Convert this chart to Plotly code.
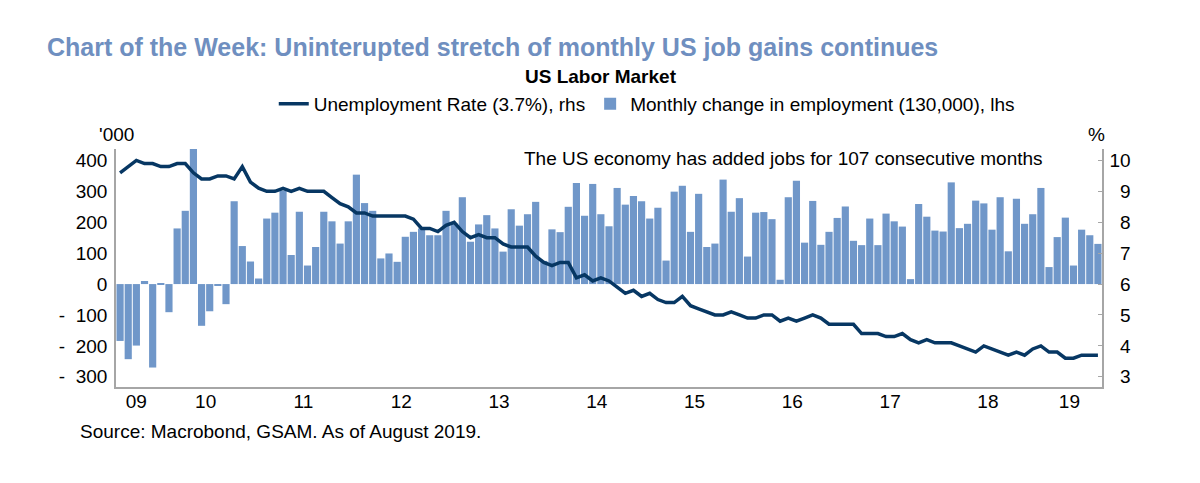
import pandas as pd
import plotly.graph_objects as go

# ---------------- data ----------------
months = pd.date_range("2009-08-01", "2019-08-01", freq="MS")

# Monthly change in nonfarm payrolls, '000 (lhs)
payrolls = [
    -184, -243, -199, 10, -270,                                   # 2009 Aug-Dec
    2, -91, 180, 237, 520, -135, -88, -5, -65, 268, 123, 73,       # 2010
    18, 212, 231, 303, 94, 234, 60, 120, 234, 203, 131, 203,       # 2011
    354, 262, 237, 83, 99, 72, 153, 169, 180, 158, 158, 237,       # 2012
    196, 281, 137, 193, 223, 180, 105, 242, 189, 226, 266, 75,     # 2013
    177, 168, 250, 327, 221, 324, 226, 187, 311, 257, 285, 268,    # 2014
    212, 247, 76, 299, 318, 169, 292, 120, 131, 338, 234, 278,     # 2015
    89, 231, 233, 210, 14, 281, 334, 134, 269, 127, 169, 214,      # 2016
    251, 140, 126, 212, 126, 228, 203, 186, 16, 259, 218, 173,     # 2017
    170, 329, 181, 195, 270, 261, 176, 281, 106, 276, 195, 226,    # 2018
    311, 55, 152, 215, 60, 176, 158, 130,                          # 2019 Jan-Aug
]

# Unemployment rate, % (rhs)
unemployment = [
    9.6, 9.8, 10.0, 9.9, 9.9,
    9.8, 9.8, 9.9, 9.9, 9.6, 9.4, 9.4, 9.5, 9.5, 9.4, 9.8, 9.3,
    9.1, 9.0, 9.0, 9.1, 9.0, 9.1, 9.0, 9.0, 9.0, 8.8, 8.6, 8.5,
    8.3, 8.3, 8.2, 8.2, 8.2, 8.2, 8.2, 8.1, 7.8, 7.8, 7.7, 7.9,
    8.0, 7.7, 7.5, 7.6, 7.5, 7.5, 7.3, 7.2, 7.2, 7.2, 6.9, 6.7,
    6.6, 6.7, 6.7, 6.2, 6.3, 6.1, 6.2, 6.1, 5.9, 5.7, 5.8, 5.6,
    5.7, 5.5, 5.4, 5.4, 5.6, 5.3, 5.2, 5.1, 5.0, 5.0, 5.1, 5.0,
    4.9, 4.9, 5.0, 5.0, 4.8, 4.9, 4.8, 4.9, 5.0, 4.9, 4.7, 4.7,
    4.7, 4.7, 4.4, 4.4, 4.4, 4.3, 4.3, 4.4, 4.2, 4.1, 4.2, 4.1,
    4.1, 4.1, 4.0, 3.9, 3.8, 4.0, 3.9, 3.8, 3.7, 3.8, 3.7, 3.9,
    4.0, 3.8, 3.8, 3.6, 3.6, 3.7, 3.7, 3.7,
]

left_tick_vals = [400, 300, 200, 100, 0, -100, -200, -300]
left_tick_text = ["400", "300", "200", "100", "0",
                  "-\u00a0\u00a0100", "-\u00a0\u00a0200", "-\u00a0\u00a0300"]
right_tick_vals = [3, 4, 5, 6, 7, 8, 9, 10]
right_tick_text = ["\u2007" + str(v) if v < 10 else str(v) for v in right_tick_vals]

# ---------------- derived positions ----------------
x_idx = list(range(len(months)))
year_ticks, year_labels = [], []
for yr in sorted(set(months.year)):
    idxs = [i for i, m in enumerate(months) if m.year == yr]
    year_ticks.append(sum(idxs) / len(idxs))
    year_labels.append(f"{yr % 100:02d}")

FONT = "Liberation Sans, Arial, sans-serif"
BAR_COLOR = "#7097c9"
LINE_COLOR = "#073763"
AXIS_COLOR = "#a6a6a6"

fig = go.Figure()
fig.add_trace(go.Scatter(
    x=x_idx, y=unemployment, yaxis="y2", mode="lines",
    name="Unemployment Rate (3.7%), rhs",
    line=dict(color=LINE_COLOR, width=3.5),
))
fig.add_trace(go.Bar(
    x=x_idx, y=payrolls, yaxis="y",
    name="Monthly change in employment (130,000), lhs",
    marker=dict(color=BAR_COLOR, line=dict(width=0)),
))

fig.update_layout(
    width=1200, height=483,
    paper_bgcolor="white", plot_bgcolor="white",
    margin=dict(l=116, r=98, t=149, b=96),
    font=dict(family=FONT, size=19, color="black"),
    bargap=0.12,
    showlegend=True,
    legend=dict(orientation="h", x=0.16, xanchor="left", y=(387 - 104) / 238, yanchor="middle",
                font=dict(size=19), traceorder="normal", itemwidth=30,
                bgcolor="rgba(0,0,0,0)"),
    title=dict(text="<b>Chart of the Week: Uninterupted stretch of monthly US job gains continues</b>",
               x=47 / 1200, xanchor="left", xref="container",
               y=1 - 47 / 483, yanchor="middle", yref="container",
               font=dict(size=25, color="#6f8fc0", family=FONT)),
    xaxis=dict(range=[-0.5, len(months) - 0.5], tickvals=year_ticks, ticktext=year_labels,
               showline=True, linecolor=AXIS_COLOR, linewidth=1.5, ticks="",
               showgrid=False, zeroline=False, tickfont=dict(size=19),
               ticklabelstandoff=-4),
    yaxis=dict(range=[-333, 437], tickvals=left_tick_vals, ticktext=left_tick_text,
               showline=True, linecolor=AXIS_COLOR, linewidth=1.5, ticks="",
               showgrid=False, zeroline=False, tickfont=dict(size=19),
               ticklabelstandoff=3),
    yaxis2=dict(range=[2.67, 10.37], overlaying="y", side="right",
                tickvals=right_tick_vals, ticktext=right_tick_text,
                showline=True, linecolor=AXIS_COLOR, linewidth=1.5,
                ticks="inside", ticklen=4, tickcolor=AXIS_COLOR, tickwidth=1,
                showgrid=False, zeroline=False, tickfont=dict(size=19),
                ticklabelstandoff=2),
)

fig.add_annotation(text="<b>US Labor Market</b>", xref="paper", yref="paper",
                   x=(601 - 116) / 986, y=(387 - 76) / 238, xanchor="center", yanchor="middle",
                   showarrow=False, font=dict(size=19, color="black"))
fig.add_annotation(text="The US economy has added jobs for 107 consecutive months",
                   xref="paper", yref="paper", x=(522 - 116) / 986, y=(387 - 158) / 238,
                   xanchor="left", yanchor="middle", showarrow=False, font=dict(size=19))
fig.add_annotation(text="'000", xref="paper", yref="paper", x=(116 - 116) / 986,
                   y=(387 - 134) / 238, xanchor="center", yanchor="middle",
                   showarrow=False, font=dict(size=19))
fig.add_annotation(text="%", xref="paper", yref="paper", x=(1096 - 116) / 986,
                   y=(387 - 134) / 238, xanchor="center", yanchor="middle",
                   showarrow=False, font=dict(size=19))
fig.add_annotation(text="Source: Macrobond, GSAM. As of August 2019.", xref="paper", yref="paper",
                   x=(78 - 116) / 986, y=(387 - 431) / 238, xanchor="left", yanchor="middle",
                   showarrow=False, font=dict(size=19))

fig.write_html("out.html", config={"displayModeBar": False},
               post_script="document.body.style.margin='0';")
